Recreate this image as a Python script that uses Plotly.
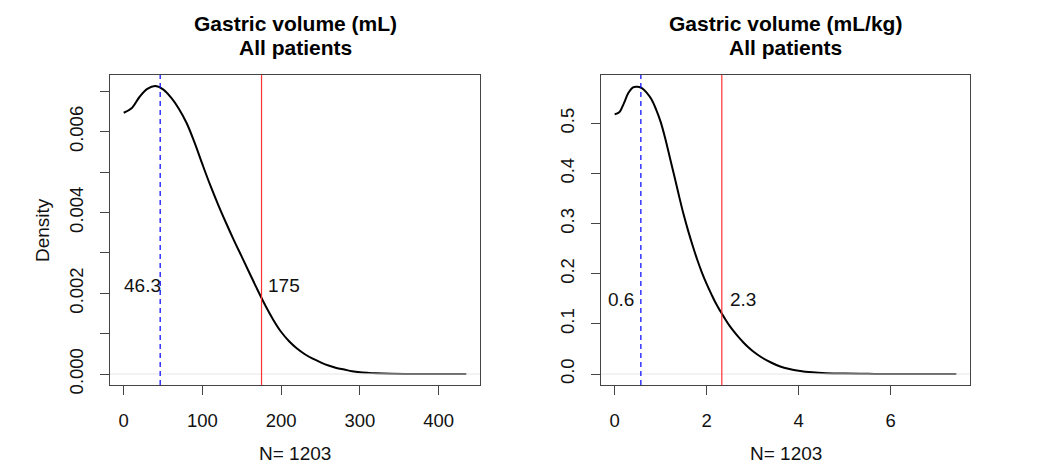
import plotly.graph_objects as go

# ---------------- data ----------------
titles = ["Gastric volume (mL)", "Gastric volume (mL/kg)"]
subtitle = "All patients"
n_label = "N= 1203"

x_ml = [0, 10, 20, 30, 40, 50, 60, 70, 80, 90, 100, 110, 120, 130, 140, 150,
        160, 170, 180, 190, 200, 210, 220, 230, 240, 250, 260, 270, 280, 290,
        300, 310, 320, 340, 370, 400, 435]
y_ml = [0.00647, 0.00658, 0.00686, 0.00706, 0.00713, 0.00705, 0.00685, 0.00657,
        0.00621, 0.00573, 0.00519, 0.00467, 0.00419, 0.00374, 0.00331, 0.00290,
        0.00249, 0.00208, 0.00169, 0.00134, 0.00104, 0.00081, 0.00063, 0.00049,
        0.00038, 0.00029, 0.00021, 0.00015, 0.00011, 0.00007, 0.000045, 0.00003,
        0.000018, 0.000006, 0.000001, 0.0, 0.0]

x_kg = [0, 0.1, 0.2, 0.3, 0.4, 0.5, 0.6, 0.7, 0.8, 0.9, 1.0, 1.1, 1.2, 1.3, 1.4,
        1.5, 1.6, 1.7, 1.8, 1.9, 2.0, 2.1, 2.2, 2.3, 2.4, 2.5, 2.6, 2.7, 2.8, 2.9,
        3.0, 3.2, 3.4, 3.6, 3.8, 4.0, 4.3, 4.6, 5.0, 5.5, 6.0, 7.43]
y_kg = [0.518, 0.522, 0.540, 0.561, 0.572, 0.573, 0.570, 0.561, 0.548, 0.528,
        0.503, 0.470, 0.432, 0.394, 0.355, 0.318, 0.285, 0.255, 0.227, 0.202,
        0.180, 0.160, 0.141, 0.125, 0.110, 0.096, 0.084, 0.073, 0.063, 0.054,
        0.046, 0.033, 0.023, 0.015, 0.010, 0.0065, 0.0033, 0.0017, 0.0008,
        0.0003, 0.0001, 0.0]

median_ml, p90_ml = 46.3, 175
median_kg, p90_kg = 0.57, 2.33
median_ml_txt, p90_ml_txt = "46.3", "175"
median_kg_txt, p90_kg_txt = "0.6", "2.3"

xticks_ml = [0, 100, 200, 300, 400]
yticks_ml = [0, 0.001, 0.002, 0.003, 0.004, 0.005, 0.006, 0.007]
yticktext_ml = ["0.000", "", "0.002", "", "0.004", "", "0.006", ""]
xticks_kg = [0, 2, 4, 6]
yticks_kg = [0, 0.1, 0.2, 0.3, 0.4, 0.5]
yticktext_kg = ["0.0", "0.1", "0.2", "0.3", "0.4", "0.5"]

# ---------------- figure ----------------
W, H = 1054, 468
FONT = "Liberation Sans, Arial, Helvetica, sans-serif"
AX = "#444444"

def px_x(p):
    return p / W

def px_y(p):
    return 1 - p / H

fig = go.Figure()
fig.add_trace(go.Scatter(x=x_ml, y=y_ml, mode="lines", xaxis="x", yaxis="y",
                         line=dict(color="black", width=2, shape="spline", smoothing=1.0),
                         showlegend=False, hoverinfo="skip"))
fig.add_trace(go.Scatter(x=x_kg, y=y_kg, mode="lines", xaxis="x2", yaxis="y2",
                         line=dict(color="black", width=2, shape="spline", smoothing=1.0),
                         showlegend=False, hoverinfo="skip"))

common_axis = dict(showline=True, linecolor=AX, linewidth=1, mirror=True,
                   ticks="outside", ticklen=9, tickwidth=1, tickcolor=AX,
                   showgrid=False, zeroline=False, automargin=False,
                   tickfont=dict(family=FONT, size=18.5, color="#111"))

fig.update_layout(
    template="none",
    width=W, height=H, autosize=False,
    margin=dict(l=0, r=0, t=0, b=0, pad=0, autoexpand=False),
    paper_bgcolor="white", plot_bgcolor="white",
    xaxis=dict(domain=[px_x(110), px_x(480)], range=[-17.4, 452.4],
               tickmode="array", tickvals=xticks_ml, anchor="y",
               ticklabelstandoff=10, **common_axis),
    yaxis=dict(domain=[px_y(385), px_y(75)], range=[-0.000272, 0.007405],
               tickmode="array", tickvals=yticks_ml, ticktext=yticktext_ml,
               tickangle=-90, anchor="x", ticklabelstandoff=10, **common_axis),
    xaxis2=dict(domain=[px_x(601), px_x(970)], range=[-0.297, 7.727],
                tickmode="array", tickvals=xticks_kg, anchor="y2",
                ticklabelstandoff=10, **common_axis),
    yaxis2=dict(domain=[px_y(385), px_y(75)], range=[-0.0219, 0.5965],
                tickmode="array", tickvals=yticks_kg, ticktext=yticktext_kg,
                tickangle=-90, anchor="x2", ticklabelstandoff=10, **common_axis),
)

shapes = []
for xr, yr, med, p90 in [("x", "y", median_ml, p90_ml), ("x2", "y2", median_kg, p90_kg)]:
    shapes.append(dict(type="line", xref=xr + " domain", yref=yr, x0=0, x1=1, y0=0, y1=0,
                       line=dict(color="#e6e6e6", width=1)))
    shapes.append(dict(type="line", xref=xr, yref=yr + " domain", x0=med, x1=med, y0=0, y1=1,
                       line=dict(color="blue", width=1.2, dash="5px,4px")))
    shapes.append(dict(type="line", xref=xr, yref=yr + " domain", x0=p90, x1=p90, y0=0, y1=1,
                       line=dict(color="#ff3030", width=1.2)))
fig.update_layout(shapes=shapes)

ann = []
tfont = dict(family=FONT, size=19, color="#111")
# value labels
ann.append(dict(xref="x", yref="y", x=median_ml, y=0.00218, text=median_ml_txt, showarrow=False,
                xanchor="right", yanchor="middle", xshift=3, font=tfont))
ann.append(dict(xref="x", yref="y", x=p90_ml, y=0.00218, text=p90_ml_txt, showarrow=False,
                xanchor="left", yanchor="middle", xshift=4, font=tfont))
ann.append(dict(xref="x2", yref="y2", x=median_kg, y=0.148, text=median_kg_txt, showarrow=False,
                xanchor="right", yanchor="middle", xshift=-5, font=tfont))
ann.append(dict(xref="x2", yref="y2", x=p90_kg, y=0.148, text=p90_kg_txt, showarrow=False,
                xanchor="left", yanchor="middle", xshift=6, font=tfont))

# titles
for cx, t in [(295, titles[0]), (785.5, titles[1])]:
    ann.append(dict(xref="paper", yref="paper", x=px_x(cx), y=px_y(23), text="<b>%s</b>" % t,
                    showarrow=False, xanchor="center", yanchor="middle",
                    font=dict(family=FONT, size=21, color="black")))
    ann.append(dict(xref="paper", yref="paper", x=px_x(cx), y=px_y(48), text="<b>%s</b>" % subtitle,
                    showarrow=False, xanchor="center", yanchor="middle",
                    font=dict(family=FONT, size=21, color="black")))
    ann.append(dict(xref="paper", yref="paper", x=px_x(cx), y=px_y(453), text=n_label,
                    showarrow=False, xanchor="center", yanchor="middle", font=tfont))

ann.append(dict(xref="paper", yref="paper", x=px_x(42), y=px_y(230), text="Density",
                showarrow=False, textangle=-90, xanchor="center", yanchor="middle", font=tfont))
fig.update_layout(annotations=ann)

fig.write_html("out.html", config={"displayModeBar": False, "responsive": False},
               post_script="document.body.style.margin='0px';document.body.style.overflow='hidden';")
